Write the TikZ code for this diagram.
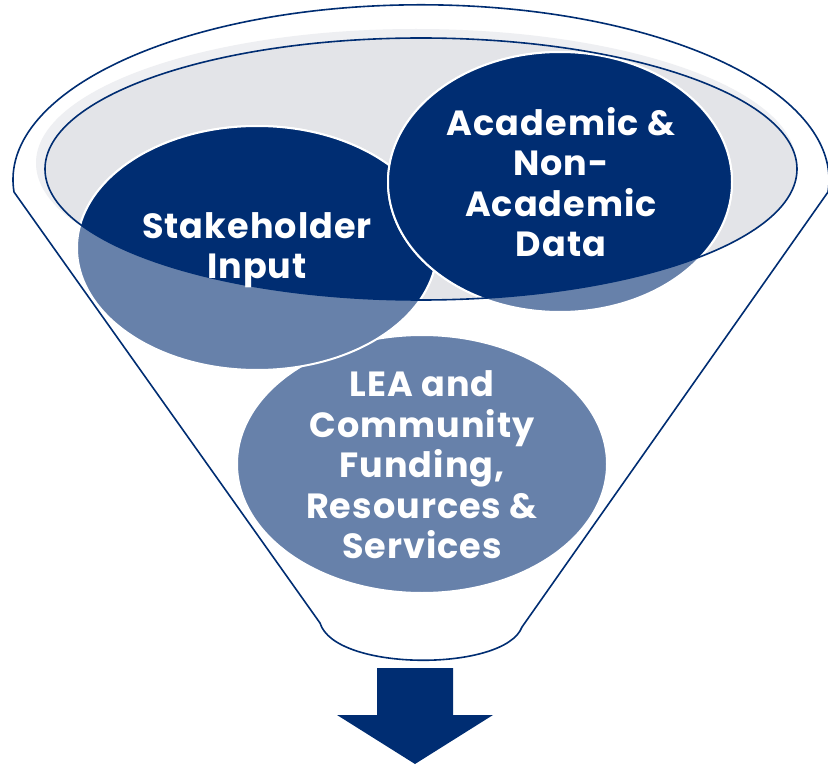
\documentclass[tikz,border=0pt]{standalone}
\usepackage{fontspec}
\setmainfont{Poppins}[LetterSpace=3]
\definecolor{navy}{HTML}{002D72}
\definecolor{steel}{HTML}{6781AA}
\definecolor{rimgray}{HTML}{E3E4E8}
\definecolor{bandgray}{HTML}{EEEFF2}
\tikzset{
  rimline/.style={draw=navy, line width=1.6pt},
  bubble/.style={draw=white, line width=2pt},
  txt/.style={text=white, align=center, font=\fontsize{35}{40.5}\selectfont\bfseries},
}
\begin{document}
\begin{tikzpicture}[x=1pt,y=-1pt,line join=round]
\useasboundingbox (0,0) rectangle (828,765);
% funnel body
\path[rimline, fill=white] (14,192) arc[start angle=176, end angle=364, x radius=408, y radius=175]
  -- (522,627) .. controls (505,672) and (335,672) .. (320,623) -- cycle;
% rim
\fill[bandgray] (416,163) ellipse[x radius=380, y radius=134];
\fill[rimgray] (421,169) ellipse[x radius=376, y radius=131];
% bubbles
\path[bubble, fill=steel] (422,464) ellipse[x radius=185, y radius=129];
\path[bubble, fill=steel] (257,248) ellipse[x radius=180, y radius=122];
\begin{scope}
  \clip (421,169) ellipse[x radius=376, y radius=131];
  \path[bubble, fill=navy] (257,248) ellipse[x radius=180, y radius=122];
\end{scope}
\path[bubble, fill=steel] (560,182) ellipse[x radius=172, y radius=130];
\begin{scope}
  \clip (421,169) ellipse[x radius=376, y radius=131];
  \path[bubble, fill=navy] (560,182) ellipse[x radius=172, y radius=130];
\end{scope}
\path[rimline] (421,169) ellipse[x radius=376, y radius=131];
% texts
\node[txt] (sh) at (257,250) {Stakeholder\\Input};
\node[txt] (ad) at (561,182) {Academic \&\\Non-\\Academic\\Data};
\node[txt] (lea) at (422,465) {LEA and\\Community\\Funding,\\Resources \&\\Services};
% arrow
\fill[navy] (377,668) -- (453,668) -- (453,715) -- (493,715) -- (415,764) -- (337,715) -- (377,715) -- cycle;
\end{tikzpicture}
\end{document}
